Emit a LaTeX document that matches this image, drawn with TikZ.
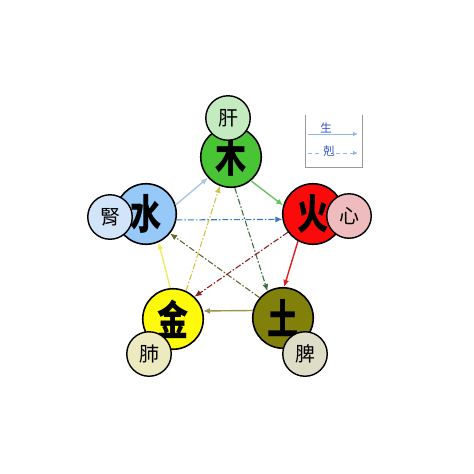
\documentclass[tikz,border=0pt]{standalone}
\usepackage{fontspec}
\newfontfamily\cjk{Noto Sans CJK TC}
\usetikzlibrary{arrows.meta}
\definecolor{woodgreen}{RGB}{72, 196, 52}
\definecolor{firered}{RGB}{250, 10, 10}
\definecolor{eartholive}{RGB}{128, 128, 10}
\definecolor{metalyellow}{RGB}{255, 250, 10}
\definecolor{waterblue}{RGB}{150, 200, 248}
\definecolor{liverpale}{RGB}{196, 234, 192}
\definecolor{heartpink}{RGB}{238, 188, 188}
\definecolor{spleenpale}{RGB}{222, 222, 200}
\definecolor{lungpale}{RGB}{236, 234, 190}
\definecolor{kidneypale}{RGB}{210, 228, 248}
\definecolor{woodline}{RGB}{100, 196, 100}
\definecolor{fireline}{RGB}{222, 30, 30}
\definecolor{earthline}{RGB}{150, 150, 80}
\definecolor{metalline}{RGB}{240, 238, 90}
\definecolor{waterline}{RGB}{170, 198, 228}
\definecolor{woodke}{RGB}{62, 110, 62}
\definecolor{fireke}{RGB}{140, 32, 32}
\definecolor{earthke}{RGB}{102, 102, 50}
\definecolor{metalke}{RGB}{200, 200, 70}
\definecolor{waterke}{RGB}{56, 118, 200}
\definecolor{legendblue}{RGB}{140, 186, 236}
\definecolor{legendtext}{RGB}{50, 80, 200}
\newcommand{\tallchar}[1]{\scalebox{0.82}[1.08]{#1}}
\tikzset{
  element/.style={circle, draw=black, line width=1.6pt, minimum size=60.5pt, inner sep=0pt,
                  font=\cjk\bfseries\fontsize{38}{38}\selectfont},
  organ/.style={circle, draw=black, line width=1.4pt, minimum size=44.5pt, inner sep=0pt,
                font=\cjk\fontsize{20}{20}\selectfont},
  sheng/.style={line width=1.4pt, -{Latex[length=7pt,width=6pt]}},
  ke/.style={line width=1.1pt, dash pattern=on 6pt off 2pt on 1.5pt off 2pt,
             -{Latex[length=7pt,width=6pt]}},
  legendlabel/.style={inner sep=1pt, text=legendtext, font=\cjk\fontsize{11.5}{11.5}\selectfont}
}
\begin{document}
\begin{tikzpicture}[x=1pt, y=-1pt]
    \useasboundingbox (0,0) rectangle (474,474);
    % the five elements
    \node[element, fill=woodgreen]   (wood)  at (231,157) {\tallchar{木}};
    \node[element, fill=firered]     (fire)  at (313,214) {\tallchar{火}};
    \node[element, fill=eartholive]  (earth) at (283,318) {\tallchar{土}};
    \node[element, fill=metalyellow] (metal) at (173,319) {\tallchar{金}};
    \node[element, fill=waterblue]   (water) at (146,214) {\tallchar{水}};
    % the organs
    \node[organ, fill=liverpale]  (liver)  at (228,118) {肝};
    \node[organ, fill=heartpink]  (heart)  at (349,216) {心};
    \node[organ, fill=spleenpale] (spleen) at (305,354) {脾};
    \node[organ, fill=lungpale]   (lung)   at (149,354) {肺};
    \node[organ, fill=kidneypale] (kidney) at (110,217) {腎};
    % sheng cycle
    \draw[sheng, color=waterline] (water.17)  -- (wood.222);
    \draw[sheng, color=woodline]  (wood.310)  -- (fire.164);
    \draw[sheng, color=fireline]  (fire.241)  -- (earth.88);
    \draw[sheng, color=earthline] (earth.166) -- (metal.15);
    \draw[sheng, color=metalline] (metal.95)  -- (water.294);
    % ke cycle
    \draw[ke, color=waterke] (water.349) -- (fire.190);
    \draw[ke, color=woodke]  (wood.277)  -- (earth.120);
    \draw[ke, color=earthke] (earth.139) -- (water.321);
    \draw[ke, color=fireke]  (fire.216)  -- (metal.46);
    \draw[ke, color=metalke] (metal.65)  -- (wood.249);
    % legend
    \draw[gray!80, line width=0.9pt] (305,115) -- (305,167) -- (362,167) -- (362,115);
    \coordinate (shengfrom) at (308,134);
    \coordinate (shengto)   at (358,134);
    \coordinate (kefrom)    at (308,153);
    \coordinate (keto)      at (358,153);
    \draw[color=legendblue, line width=1pt, -{Latex[length=5pt,width=4.5pt]}] (shengfrom) -- (shengto);
    \draw[color=legendblue, line width=1pt, dash pattern=on 4pt off 3pt, -{Latex[length=5pt,width=4.5pt]}] (kefrom) -- (keto);
    \node[legendlabel] (shenglabel) at (326,127.5) {生};
    \node[legendlabel, fill=white] (kelabel) at (329,151) {剋};
\end{tikzpicture}
\end{document}
